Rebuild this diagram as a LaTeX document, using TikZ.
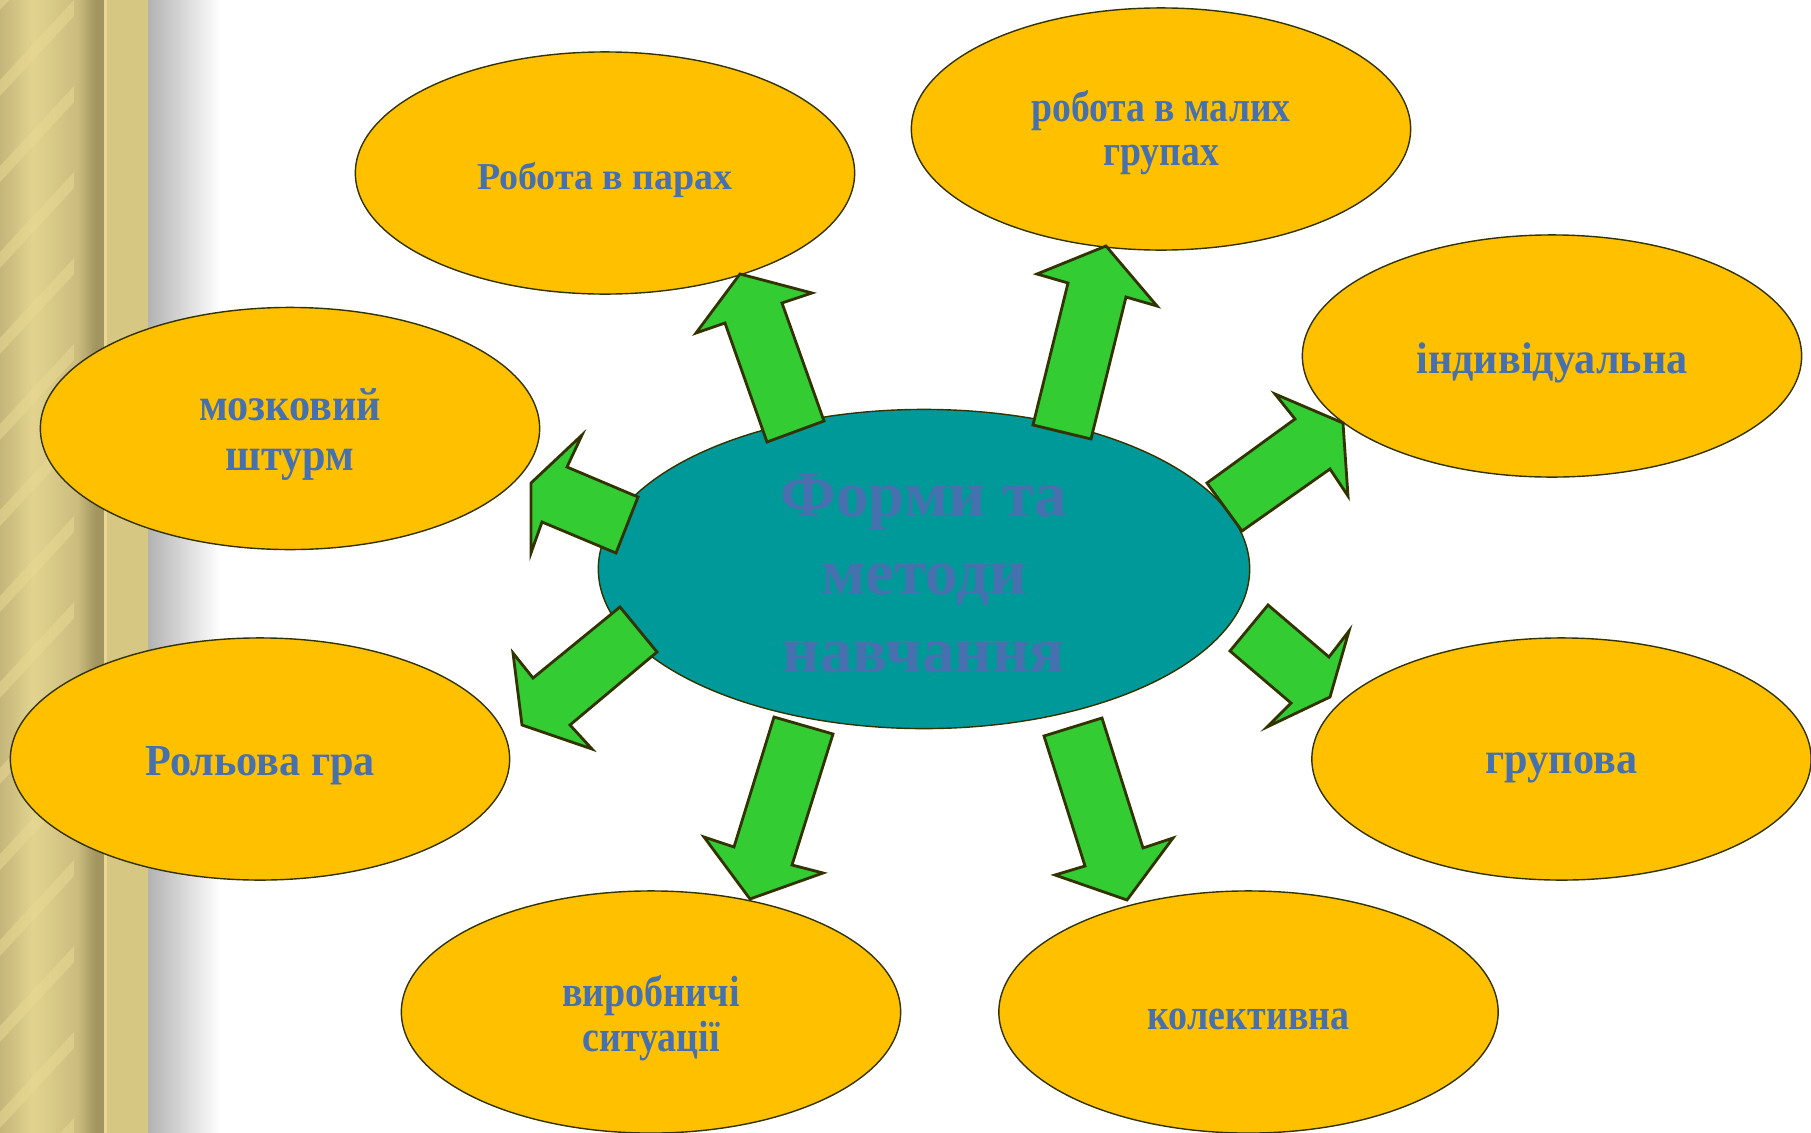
\documentclass[tikz,border=0pt]{standalone}
\usepackage{fontspec}
\setmainfont{Liberation Serif}
\usepackage{graphicx}
\usetikzlibrary{shapes.geometric}
\definecolor{ovalyellow}{RGB}{255,192,0}
\definecolor{ovalteal}{RGB}{0,153,153}
\definecolor{arrowgreen}{RGB}{51,204,51}
\definecolor{darkedge}{RGB}{51,51,0}
\definecolor{labelblue}{RGB}{70,112,174}
\definecolor{goldA}{RGB}{196,181,122}
\definecolor{goldB}{RGB}{226,212,143}
\definecolor{goldC}{RGB}{204,188,126}
\definecolor{goldD}{RGB}{163,149,96}
\definecolor{goldE}{RGB}{214,199,131}
\definecolor{goldF}{RGB}{232,216,146}
\newcommand\vlabel[3]{\scalebox{1}[#1]{\vbox{\lineskiplimit=-50pt\baselineskip=#2\halign{\hfil##\hfil\cr#3\crcr}}}}
\begin{document}
\begin{tikzpicture}[x=0.01cm, y=-0.01cm,
  oval/.style={ellipse, draw=darkedge, line width=0.4pt, fill=ovalyellow, minimum width=4.99cm, minimum height=2.42cm, inner sep=0pt},
  centre/.style={ellipse, draw=darkedge, line width=0.4pt, fill=ovalteal, minimum width=6.51cm, minimum height=3.19cm, inner sep=0pt},
  lbl/.style={text=labelblue, align=center, inner sep=0pt},
  blockarrow/.style={draw=darkedge, line width=0.8pt, fill=arrowgreen, line join=miter},
  stripe/.style={fill=goldF, opacity=0.55}]

\useasboundingbox (0,0) rectangle (1811,1133);
\fill[white] (0,0) rectangle (1811,1133);

% gold strip on the left
\shade[left color=goldA, right color=goldB] (0,0) rectangle (33,1133);
\shade[left color=goldB, right color=goldC] (33,0) rectangle (77,1133);
\shade[left color=goldC, right color=goldD] (77,0) rectangle (96,1133);
\fill[goldD] (95.5,0) rectangle (104,1133);
\fill[goldF] (104,0) rectangle (107,1133);
\fill[goldE] (107,0) rectangle (148,1133);
\shade[left color=black!30, right color=white] (148,0) rectangle (220,1133);
\begin{scope}
  \clip (0,0) rectangle (74,1133);
  \foreach \k in {-1,...,14}
    \fill[stripe] (0,{80+86*\k}) -- (74,{86*\k}) -- (74,{16+86*\k}) -- (0,{96+86*\k}) -- cycle;
\end{scope}

\node[oval] (pairs) at (605,173) {};
\node[oval] (smallgroups) at (1161,129) {};
\node[oval] (individual) at (1552,356) {};
\node[oval] (brainstorm) at (290,428.5) {};
\node[oval] (roleplay) at (260,759) {};
\node[oval] (group) at (1561.5,759) {};
\node[oval] (cases) at (651,1012) {};
\node[oval] (collective) at (1248.5,1012) {};
\node[centre] (forms) at (924,569) {};

\node[lbl, font=\bfseries\fontsize{10.8pt}{13pt}\selectfont] (pairs-t) at ([yshift=-2pt]pairs) {Робота в парах};
\node[lbl, font=\bfseries\fontsize{10.7pt}{13pt}\selectfont] (smallgroups-t) at ([yshift=-1pt]smallgroups) {\vlabel{1.15}{10.9pt}{робота в малих\cr групах}};
\node[lbl, font=\bfseries\fontsize{12pt}{14pt}\selectfont] (individual-t) at ([yshift=-2pt]individual) {\scalebox{1}[1.05]{індивідуальна}};
\node[lbl, font=\bfseries\fontsize{12pt}{14pt}\selectfont] (brainstorm-t) at ([yshift=-1.7pt]brainstorm) {\vlabel{1.1}{12.9pt}{мозковий\cr штурм}};
\node[lbl, font=\bfseries\fontsize{12pt}{14pt}\selectfont] (roleplay-t) at ([yshift=-2pt]roleplay) {\scalebox{1}[1.05]{Рольова гра}};
\node[lbl, font=\bfseries\fontsize{12pt}{14pt}\selectfont] (group-t) at ([yshift=-2.5pt]group) {\scalebox{1}[1.05]{групова}};
\node[lbl, font=\bfseries\fontsize{10.8pt}{13pt}\selectfont] (cases-t) at ([yshift=-1.7pt]cases) {\vlabel{1.15}{11.1pt}{виробничі\cr ситуації}};
\node[lbl, font=\bfseries\fontsize{10.8pt}{13pt}\selectfont] (collective-t) at ([yshift=-2pt]collective) {\scalebox{1}[1.15]{колективна}};
\node[lbl, font=\bfseries\fontsize{18.5pt}{22.3pt}\selectfont] (forms-t) at ([yshift=-1.3pt]forms) {Форми та\\методи\\навчання};

% block arrows from the centre
\draw[blockarrow] (740,274) -- (812,293) -- (782,303) -- (824,421) -- (767,442) -- (725,323) -- (696,333) -- cycle;
\draw[blockarrow] (1106,246) -- (1157,306) -- (1126,297) -- (1091,439) -- (1033,425) -- (1068,283) -- (1037,274) -- cycle;
\draw[blockarrow] (1343,423) -- (1348,496) -- (1330,469) -- (1242,531) -- (1207,483) -- (1295,419) -- (1275,394) -- cycle;
\draw[blockarrow] (638,497) -- (567,467) -- (582,435) -- (531,483) -- (531,553) -- (542,522) -- (616,553) -- cycle;
\draw[blockarrow] (620,607) -- (657,652) -- (570,725) -- (592,749) -- (522,725) -- (513,653) -- (533,678) -- cycle;
\draw[blockarrow] (1268,605) -- (1230,651) -- (1291,703) -- (1267,727) -- (1330,697) -- (1349,631) -- (1329,657) -- cycle;
\draw[blockarrow] (774,717) -- (833,734) -- (792,865) -- (823,873) -- (750,899) -- (704,837) -- (734,847) -- cycle;
\draw[blockarrow] (1044,736) -- (1102,718) -- (1143,848) -- (1173,838) -- (1127,900) -- (1055,875) -- (1085,866) -- cycle;
\end{tikzpicture}
\end{document}
